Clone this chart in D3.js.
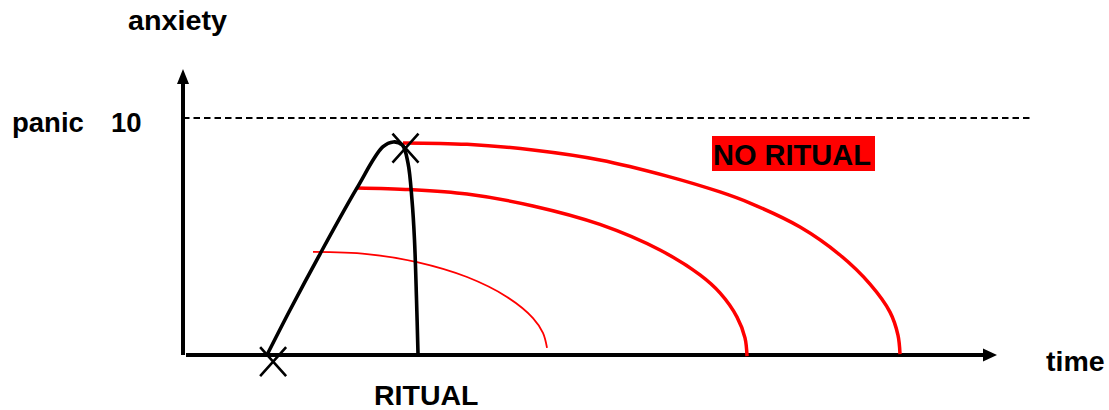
<!DOCTYPE html>
<html>
<head>
<meta charset="utf-8">
<script src="https://cdn.jsdelivr.net/npm/d3@7"></script>
<style>
  html, body { margin: 0; padding: 0; background: #fff; }
  svg { display: block; }
  text { font-family: "Liberation Sans", Arial, sans-serif; font-weight: bold; fill: #000; }
</style>
</head>
<body>
<svg id="chart" width="1109" height="410"></svg>
<script>
// ---- data (time 0..100, anxiety 0..10) ----
const yTickValue = 10;
const yTickLabel = "10";
const panicLabel = "panic";
const yAxisTitle = "anxiety";
const xAxisTitle = "time";
const ritualLabel = "RITUAL";
const noRitualLabel = "NO RITUAL";

// black curve: anxiety rises, ritual performed at peak, anxiety drops sharply
const ritualTime    = [10.34, 13.18, 16.87, 21.43, 24.6, 25.9, 27.0, 27.71, 28.2, 28.51, 28.76, 28.94];
const ritualAnxiety = [0.0, 1.90, 4.26, 7.05, 8.78, 8.99, 8.86, 8.10, 6.54, 4.85, 2.32, 0.08];

// red curves: no ritual, slow natural decline
const noRitualHighTime    = [27.09, 34.98, 43.10, 51.35, 59.61, 66.13, 69.83, 75.99, 80.91, 84.61, 87.07, 88.05, 88.30];
const noRitualHighAnxiety = [8.95, 8.89, 8.65, 8.23, 7.55, 6.88, 6.41, 5.40, 4.22, 2.99, 1.81, 0.84, 0.04];

const noRitualMidTime    = [21.43, 27.96, 34.98, 43.10, 51.35, 58.74, 63.67, 66.13, 68.23, 69.21, 69.46];
const noRitualMidAnxiety = [7.05, 6.98, 6.79, 6.29, 5.51, 4.43, 3.38, 2.62, 1.60, 0.72, -0.05];

const noRitualLowTime    = [16.01, 22.66, 28.82, 34.98, 39.90, 43.10, 44.33, 44.83];
const noRitualLowAnxiety = [4.35, 4.26, 3.92, 3.29, 2.45, 1.56, 0.93, 0.30];

// "X" markers: start of exposure and ritual point
const markerTime    = [11.1, 27.4];
const markerAnxiety = [-0.28, 8.73];

// ---- drawing ----
const svg = d3.select("#chart");
const x = d3.scaleLinear().domain([0, 100]).range([183, 995]);
const y = d3.scaleLinear().domain([0, 10]).range([355, 118]);

const zip = (ts, as) => ts.map((t, i) => [t, as[i]]);
const line = d3.line().x(d => x(d[0])).y(d => y(d[1])).curve(d3.curveCatmullRom.alpha(0.5));

// panic dashed line
svg.append("line")
  .attr("x1", x(0)).attr("x2", 1030)
  .attr("y1", y(yTickValue)).attr("y2", y(yTickValue))
  .attr("stroke", "#000").attr("stroke-width", 1.8)
  .attr("stroke-dasharray", "6.5,4");

// y axis with arrow
svg.append("line")
  .attr("x1", x(0)).attr("x2", x(0))
  .attr("y1", y(0)).attr("y2", 82)
  .attr("stroke", "#000").attr("stroke-width", 4);
svg.append("path")
  .attr("d", `M${x(0) - 6},84 L${x(0)},69 L${x(0) + 6},84 Z`)
  .attr("fill", "#000");

// x axis with arrow
svg.append("line")
  .attr("x1", x(0) + 3).attr("x2", 985)
  .attr("y1", y(0)).attr("y2", y(0))
  .attr("stroke", "#000").attr("stroke-width", 4);
svg.append("path")
  .attr("d", `M983,${y(0) - 6.5} L997,${y(0)} L983,${y(0) + 6.5} Z`)
  .attr("fill", "#000");

// red curves
svg.append("path").datum(zip(noRitualLowTime, noRitualLowAnxiety))
  .attr("d", line).attr("fill", "none").attr("stroke", "#ff0000").attr("stroke-width", 1.8);
svg.append("path").datum(zip(noRitualMidTime, noRitualMidAnxiety))
  .attr("d", line).attr("fill", "none").attr("stroke", "#ff0000").attr("stroke-width", 3.5);
svg.append("path").datum(zip(noRitualHighTime, noRitualHighAnxiety))
  .attr("d", line).attr("fill", "none").attr("stroke", "#ff0000").attr("stroke-width", 3.5);

// black ritual curve
svg.append("path").datum(zip(ritualTime, ritualAnxiety))
  .attr("d", line).attr("fill", "none").attr("stroke", "#000").attr("stroke-width", 3.6);

// X markers
zip(markerTime, markerAnxiety).forEach(([t, a]) => {
  const cx = x(t), cy = y(a);
  svg.append("path")
    .attr("d", `M${cx - 13},${cy - 14.5} L${cx + 13},${cy + 14.5} M${cx + 13},${cy - 14.5} L${cx - 13},${cy + 14.5}`)
    .attr("stroke", "#000").attr("stroke-width", 2.6).attr("fill", "none");
});

// labels
svg.append("text").attr("x", 128).attr("y", 30).style("font-size", "28px")
  .attr("textLength", 99).attr("lengthAdjust", "spacingAndGlyphs").text(yAxisTitle);
svg.append("text").attr("x", 12).attr("y", 132).style("font-size", "27.5px").text(panicLabel);
svg.append("text").attr("x", 111).attr("y", 132).style("font-size", "27.5px").text(yTickLabel);
svg.append("text").attr("x", 1046).attr("y", 371).style("font-size", "28.5px").text(xAxisTitle);
svg.append("text").attr("x", 374).attr("y", 405).style("font-size", "28.5px").text(ritualLabel);

// NO RITUAL box
svg.append("rect").attr("x", 712).attr("y", 136).attr("width", 163).attr("height", 35).attr("fill", "#ff0000");
svg.append("text").attr("x", 713).attr("y", 165).style("font-size", "29px").text(noRitualLabel);
</script>
</body>
</html>
